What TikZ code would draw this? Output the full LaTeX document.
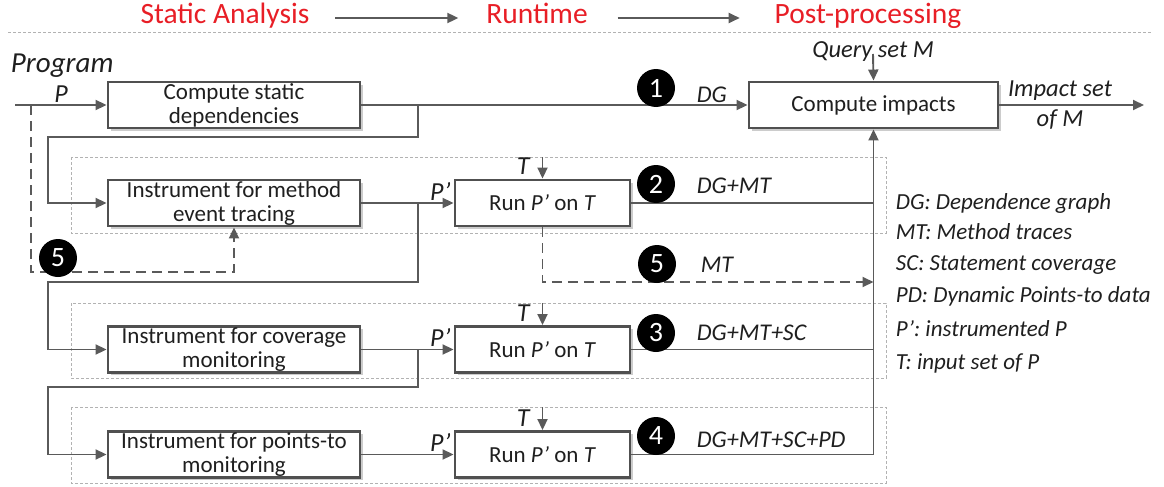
\documentclass[tikz,border=0pt]{standalone}
\usepackage{fontspec}
\setmainfont{Carlito}
\usetikzlibrary{arrows.meta,shadows}

\definecolor{linegray}{RGB}{90,90,90}
\definecolor{boxgray}{RGB}{80,80,80}
\definecolor{headred}{RGB}{232,30,38}
\newcommand{\fs}[2]{\fontsize{#1}{#2}\selectfont}

\begin{document}
\begin{tikzpicture}[x=1pt, y=-1pt, >={Triangle[length=11pt,width=10pt]}, line width=1.9pt, color=linegray,
    every node/.style={text=black!88},
    proc/.style={draw=boxgray, line width=2.9pt, fill=white, align=center, inner sep=0pt,
        minimum height=46pt, font=\fs{23}{24},
        drop shadow={shadow xshift=2.5pt, shadow yshift=-2.5pt, opacity=0.2, fill=black}},
    instr/.style={proc, minimum width=252pt},
    runbox/.style={proc, minimum width=175pt},
    numdot/.style={circle, fill=black, text=white, minimum size=38pt, inner sep=0pt, font=\fs{28}{28}},
    datalbl/.style={anchor=base west, inner sep=0pt, font=\itshape\fs{24}{24}},
    legend/.style={anchor=base west, inner sep=0pt, font=\itshape\fs{23}{23}},
    sym/.style={inner sep=0pt, font=\itshape\fs{26}{26}},
    head/.style={anchor=base, inner sep=0pt, text=headred, font=\fs{29.5}{30}},
    group/.style={draw=gray!60, line width=0.7pt, dash pattern=on 3pt off 2pt},
    dflow/.style={->, dash pattern=on 10pt off 6pt}]
    \useasboundingbox (0,0) rectangle (1164,487);

    % 1. 标题行、分隔线和三个虚线分组框 (最底层)
    \node[head] (hsa) at (225,24) {Static Analysis};
    \node[head] (hrt) at (537,24) {Runtime};
    \node[head] (hpp) at (868,24) {Post-processing};
    \draw[->] ([shift={(25pt,6pt)}]hsa.base east) -- ([shift={(-27pt,6pt)}]hrt.base west);
    \draw[->] ([shift={(29pt,6pt)}]hrt.base east) -- ([shift={(-34pt,6pt)}]hpp.base west);
    \draw[group] (8,32) -- (1152,32);
    \draw[group] (71,157) rectangle (886,233);
    \draw[group] (71,303) rectangle (886,378);
    \draw[group] (71,407) rectangle (886,483);

    % 2. 处理框
    \node[instr] (static) at (234,105) {Compute static\\dependencies};
    \node[proc, minimum width=249pt] (impact) at (873.5,105) {Compute impacts};
    \node[instr] (instA) at (234,203) {Instrument for method\\event tracing};
    \node[instr] (instB) at (234,349.5) {Instrument for coverage\\monitoring};
    \node[instr] (instC) at (234,454.5) {Instrument for points-to\\monitoring};
    \node[runbox] (runA) at (542.5,203) {Run \textit{P’} on \textit{T}};
    \node[runbox] (runB) at (542.5,349.5) {Run \textit{P’} on \textit{T}};
    \node[runbox] (runC) at (542.5,454.5) {Run \textit{P’} on \textit{T}};

    % 3. 输入、查询集和输出
    \node[anchor=base west, inner sep=0pt, font=\itshape\fs{29}{29}] (prog) at (10,72) {Program};
    \coordinate (src) at (15,105);
    \coordinate (fork) at (31,105);
    \draw[->] (src) -- (static.west);
    \node[sym, anchor=base] at (61,102) {P};
    \node[anchor=base, inner sep=0pt, font=\itshape\fs{24.5}{25}] (query) at (873,57) {Query set M};
    \draw[->] ([yshift=3pt]query.base) -- (impact.north);
    \node[align=center, inner sep=0pt, font=\itshape\fs{24.5}{30}] (iset) at (1060,105) {Impact set\\of M};
    \coordinate (sink) at (1144,105);
    \draw[->] (impact.east) -- (sink);

    % 4. 各阶段之间的连线
    \draw[->] (static.east) -- (impact.west);
    \coordinate (brA) at (418,105);
    \draw[->] (brA) |- (48,137) |- (instA.west);
    \draw[->] (instA.east) -- (runA.west);
    \coordinate (brB) at (418,203);
    \draw[->] (brB) |- (48,282) |- (instB.west);
    \draw[->] (instB.east) -- (runB.west);
    \coordinate (brC) at (418,349.5);
    \draw[->] (brC) |- (48,387) |- (instC.west);
    \draw[->] (instC.east) -- (runC.west);
    \foreach \r in {runA,runB,runC}{
        \node[sym, anchor=base east] at ([shift={(-2pt,3pt)}]\r.west) {P’};
        \node[sym, anchor=base east] at ([shift={(-12pt,4pt)}]\r.north) {T};
    }
    \coordinate (tA) at (542.5,157);
    \coordinate (tB) at (542.5,303);
    \coordinate (tC) at (542.5,407);
    \draw[->] (tA) -- (runA.north);
    \draw[->] (tB) -- (runB.north);
    \draw[->] (tC) -- (runC.north);

    % 汇总到 Compute impacts
    \draw (runA.east) -- (runA.east -| impact.south);
    \draw (runB.east) -- (runB.east -| impact.south);
    \draw[->] (runC.east) -| (impact.south);

    % 5. 虚线回路 (方法轨迹)
    \coordinate (mtEnd) at (873.5,282);
    \draw[dflow] (fork) |- (234,272) -- (instA.south);
    \draw[dflow] (runA.south) |- (mtEnd);

    % 6. 编号圆点与数据标签
    \node[numdot] (n1) at (656,88) {1};
    \node[numdot] (n2) at (656,184) {2};
    \node[numdot] (n5b) at (657,264) {5};
    \node[numdot] (n3) at (656,333) {3};
    \node[numdot] (n4) at (656,436) {4};
    \node[numdot] (n5a) at (58,258) {5};
    \node[datalbl] at (696,102) {DG};
    \node[datalbl] at (696,193) {DG+MT};
    \node[datalbl] at (700,272) {MT};
    \node[datalbl] at (696,340) {DG+MT+SC};
    \node[datalbl] at (696,447) {DG+MT+SC+PD};

    % 7. 图例
    \node[legend] at (895,209) {DG: Dependence graph};
    \node[legend] at (895,239) {MT: Method traces};
    \node[legend] at (895,270) {SC: Statement coverage};
    \node[legend] at (895,302) {PD: Dynamic Points-to data};
    \node[legend] at (895,336) {P’: instrumented P};
    \node[legend] at (895,369) {T: input set of P};
\end{tikzpicture}
\end{document}
